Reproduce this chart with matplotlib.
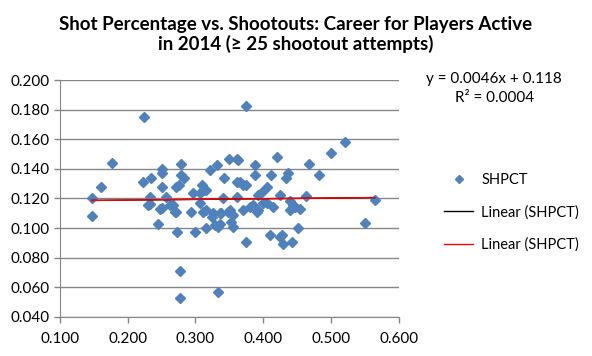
import matplotlib
matplotlib.use("Agg")
import matplotlib.pyplot as plt
from matplotlib.lines import Line2D
import numpy as np

plt.rcParams['font.family'] = ['Lato', 'DejaVu Sans']

# career shootout attempts share (x) vs shot percentage (y)
shootouts = [0.147, 0.147, 0.161, 0.177, 0.223, 0.224, 0.230, 0.233, 0.233, 0.235,
             0.245, 0.247, 0.250, 0.250, 0.251, 0.251, 0.257, 0.262, 0.267, 0.270,
             0.272, 0.272, 0.273, 0.275, 0.277, 0.277, 0.278, 0.279, 0.283, 0.293,
             0.297, 0.299, 0.306, 0.306, 0.309, 0.311, 0.312, 0.316, 0.316, 0.316,
             0.321, 0.324, 0.326, 0.329, 0.331, 0.333, 0.333, 0.336, 0.336, 0.338,
             0.341, 0.342, 0.348, 0.350, 0.351, 0.353, 0.356, 0.356, 0.361, 0.361,
             0.361, 0.363, 0.366, 0.370, 0.370, 0.374, 0.374, 0.375, 0.380, 0.385,
             0.388, 0.388, 0.390, 0.392, 0.392, 0.398, 0.400, 0.405, 0.405, 0.410,
             0.412, 0.415, 0.420, 0.424, 0.424, 0.427, 0.429, 0.434, 0.437, 0.439,
             0.439, 0.442, 0.442, 0.444, 0.447, 0.451, 0.454, 0.463, 0.468, 0.482,
             0.500, 0.520, 0.550, 0.564]
shpct = [0.120, 0.108, 0.1275, 0.144, 0.131, 0.175, 0.1155, 0.121, 0.116, 0.134,
         0.103, 0.113, 0.128, 0.1133, 0.140, 0.137, 0.121, 0.1155, 0.1155, 0.1106,
         0.128, 0.111, 0.0975, 0.129, 0.071, 0.053, 0.143, 0.136, 0.1336, 0.111,
         0.1234, 0.0975, 0.1234, 0.1167, 0.129, 0.1106, 0.126, 0.1257, 0.112, 0.100,
         0.139, 0.1076, 0.110, 0.102, 0.1426, 0.057, 0.101, 0.110, 0.103, 0.110,
         0.120, 0.134, 0.111, 0.147, 0.112, 0.104, 0.109, 0.1005, 0.147, 0.131,
         0.121, 0.146, 0.131, 0.129, 0.112, 0.1826, 0.129, 0.0903, 0.1144, 0.1155,
         0.1426, 0.136, 0.111, 0.1223, 0.112, 0.1245, 0.1167, 0.128, 0.1167, 0.0953,
         0.136, 0.1144, 0.148, 0.1223, 0.094, 0.0953, 0.089, 0.1336, 0.137, 0.118,
         0.112, 0.0908, 0.1133, 0.1155, 0.1144, 0.100, 0.113, 0.1216, 0.143, 0.136,
         0.1505, 0.158, 0.1036, 0.119]

slope = 0.0046
intercept = 0.118

fig = plt.figure(figsize=(5.92, 3.56), dpi=100)
ax = fig.add_axes([0.101, 0.11, 0.573, 0.665])

ax.plot(shootouts, shpct, linestyle='none', marker='D', ms=5.6,
        color='#4F81BD', zorder=3)

xs = np.array([min(shootouts), max(shootouts)])
ax.plot(xs, slope * xs + intercept, color='black', lw=1.0, zorder=4)
ax.plot(xs, slope * xs + intercept, color='red', lw=1.0, zorder=5)

ax.set_xlim(0.1, 0.6)
ax.set_ylim(0.04, 0.2)
ax.set_xticks(np.arange(0.1, 0.61, 0.1))
ax.set_yticks(np.arange(0.04, 0.201, 0.02))
ax.xaxis.set_major_formatter(matplotlib.ticker.FormatStrFormatter('%.3f'))
ax.yaxis.set_major_formatter(matplotlib.ticker.FormatStrFormatter('%.3f'))
ax.tick_params(labelsize=11, colors='#868686', labelcolor='black',
               length=4, width=1)
ax.tick_params(axis='x', pad=7)
ax.yaxis.grid(True, color='#868686', lw=1)
ax.set_axisbelow(True)
for side in ['top', 'right']:
    ax.spines[side].set_visible(False)
for side in ['left', 'bottom']:
    ax.spines[side].set_color('#868686')

fig.text(0.5, 0.955, "Shot Percentage vs. Shootouts: Career for Players Active\nin 2014 (\u2265 25 shootout attempts)",
         ha='center', va='top', fontsize=13.5, fontweight='bold',
         linespacing=1.15)

fig.text(0.835, 0.778, "y = 0.0046x + 0.118", ha='center', va='center', fontsize=11)
fig.text(0.835, 0.724, "R\u00b2 = 0.0004", ha='center', va='center', fontsize=11)

handles = [Line2D([], [], linestyle='none', marker='D', ms=4.2, color='#4F81BD'),
           Line2D([], [], color='black', lw=1),
           Line2D([], [], color='red', lw=1)]
fig.legend(handles, ['SHPCT', 'Linear (SHPCT)', 'Linear (SHPCT)'],
           loc='upper left', bbox_to_anchor=(444 / 592, 1 - 173 / 356),
           frameon=False, borderpad=0, borderaxespad=0,
           fontsize=10.5, handlelength=2.0, handletextpad=0.55,
           labelspacing=1.25)

fig.savefig("out.png", dpi=100)
